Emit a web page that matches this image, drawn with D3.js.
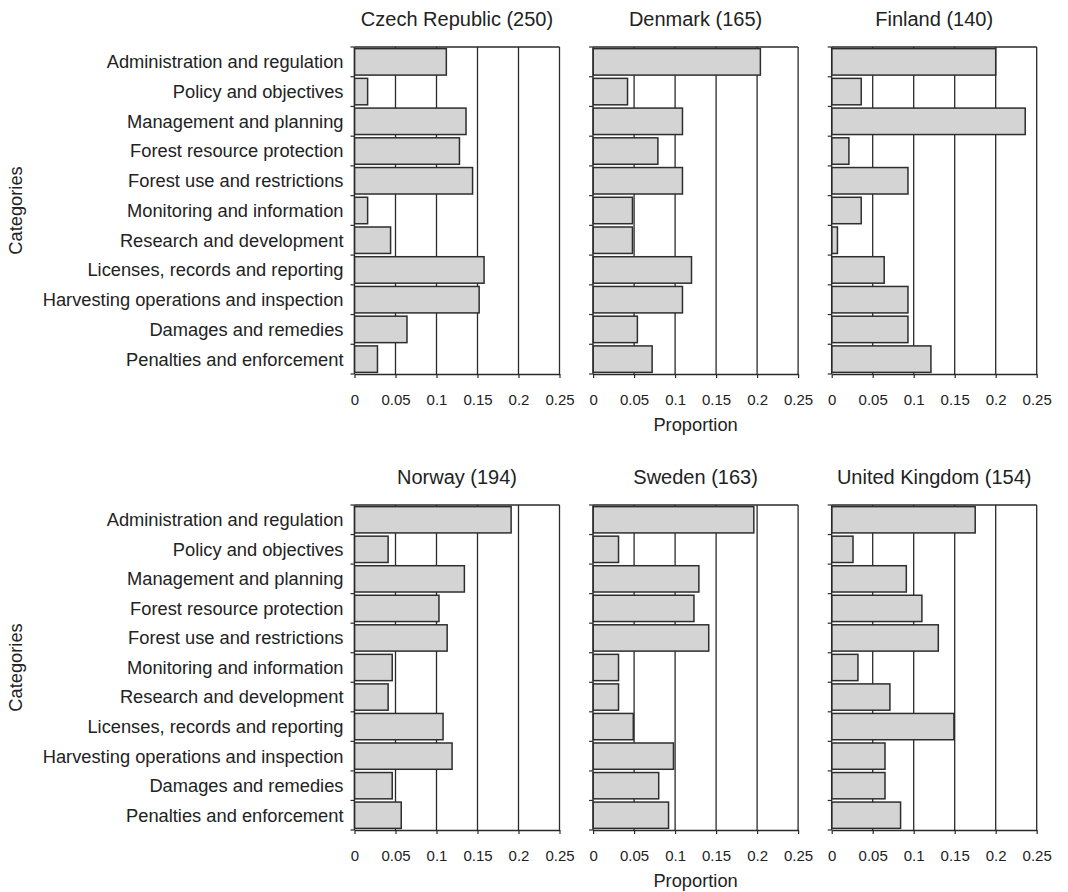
<!DOCTYPE html>
<html>
<head>
<meta charset="utf-8">
<script src="https://cdn.jsdelivr.net/npm/d3@7"></script>
<style>
  html, body { margin: 0; padding: 0; background: #fff; }
  svg { display: block; font-family: "Liberation Sans", Arial, Helvetica, sans-serif; }
</style>
</head>
<body>
<svg id="chart" width="1068" height="892"></svg>
<script>
const categories = [
  "Administration and regulation",
  "Policy and objectives",
  "Management and planning",
  "Forest resource protection",
  "Forest use and restrictions",
  "Monitoring and information",
  "Research and development",
  "Licenses, records and reporting",
  "Harvesting operations and inspection",
  "Damages and remedies",
  "Penalties and enforcement"
];
const countries = ["Czech Republic", "Denmark", "Finland", "Norway", "Sweden", "United Kingdom"];
const sampleSizes = [250, 165, 140, 194, 163, 154];

const czechRepublic = [0.112, 0.016, 0.136, 0.128, 0.144, 0.016, 0.044, 0.158, 0.152, 0.064, 0.028];
const denmark       = [0.204, 0.042, 0.109, 0.079, 0.109, 0.048, 0.048, 0.120, 0.109, 0.054, 0.072];
const finland       = [0.200, 0.036, 0.236, 0.021, 0.093, 0.036, 0.007, 0.064, 0.093, 0.093, 0.121];
const norway        = [0.191, 0.041, 0.134, 0.103, 0.113, 0.046, 0.041, 0.108, 0.119, 0.046, 0.057];
const sweden        = [0.196, 0.031, 0.129, 0.123, 0.141, 0.031, 0.031, 0.049, 0.098, 0.080, 0.092];
const unitedKingdom = [0.175, 0.026, 0.091, 0.110, 0.130, 0.032, 0.071, 0.149, 0.065, 0.065, 0.084];

const seriesValues = [czechRepublic, denmark, finland, norway, sweden, unitedKingdom];
const xTicks = [0, 0.05, 0.1, 0.15, 0.2, 0.25];
const xTickLabels = ["0", "0.05", "0.1", "0.15", "0.2", "0.25"];
const xTitle = "Proportion";
const yTitle = "Categories";

const svg = d3.select("#chart");
const panelW = 205;
const colX = [354.5, 593.1, 831.7];
const rowY = [{ top: 47, bottom: 374 }, { top: 505, bottom: 830 }];
const ink = "#222";
const lineCol = "#2a2a2a";

const x = d3.scaleLinear().domain([0, 0.25]);

countries.forEach((country, idx) => {
  const col = idx % 3, row = Math.floor(idx / 3);
  const x0 = colX[col];
  const { top, bottom } = rowY[row];
  const xs = x.copy().range([x0, x0 + panelW]);
  const y = d3.scaleBand().domain(categories).range([top, bottom])
    .paddingInner(0.11).paddingOuter(0.055);
  const g = svg.append("g");

  // gridlines (including right frame at 0.25)
  g.selectAll("line.grid").data(xTicks.slice(1)).join("line")
    .attr("x1", d => xs(d)).attr("x2", d => xs(d))
    .attr("y1", top).attr("y2", bottom)
    .attr("stroke", lineCol).attr("stroke-width", 1.3);
  // top frame
  g.append("line").attr("x1", x0).attr("x2", x0 + panelW).attr("y1", top).attr("y2", top)
    .attr("stroke", lineCol).attr("stroke-width", 1.3);

  // bars
  g.selectAll("rect.bar").data(seriesValues[idx]).join("rect")
    .attr("x", xs(0))
    .attr("y", (d, i) => y(categories[i]))
    .attr("width", d => xs(d) - xs(0))
    .attr("height", y.bandwidth())
    .attr("fill", "#d4d4d4")
    .attr("stroke", "#2e2e2e")
    .attr("stroke-width", 1.5);

  // left axis line and band-boundary ticks
  const step = y.step();
  const bounds = d3.range(categories.length + 1).map(i => top + i * (bottom - top) / categories.length);
  g.append("line").attr("x1", x0).attr("x2", x0).attr("y1", top).attr("y2", bottom)
    .attr("stroke", lineCol).attr("stroke-width", 1.3);
  g.selectAll("line.ytick").data(bounds).join("line")
    .attr("x1", x0 - 4).attr("x2", x0).attr("y1", d => d).attr("y2", d => d)
    .attr("stroke", lineCol).attr("stroke-width", 1.2);

  // bottom axis
  const xAxis = d3.axisBottom(xs).tickValues(xTicks)
    .tickFormat((d, i) => xTickLabels[i]).tickSize(4).tickPadding(16).tickSizeOuter(0);
  const ax = g.append("g").attr("transform", `translate(0,${bottom})`).call(xAxis);
  ax.select(".domain").attr("stroke", lineCol).attr("stroke-width", 1.3);
  ax.selectAll(".tick line").attr("stroke", lineCol).attr("stroke-width", 1.2);
  ax.selectAll(".tick text").attr("fill", ink).attr("font-size", 15)
    .attr("font-family", "'Liberation Sans', Arial, sans-serif");

  // category labels on the left column
  if (col === 0) {
    g.selectAll("text.cat").data(categories).join("text")
      .attr("x", x0 - 11)
      .attr("y", d => y(d) + y.bandwidth() / 2)
      .attr("dy", "0.35em")
      .attr("text-anchor", "end")
      .attr("font-size", 18.3)
      .attr("fill", ink)
      .text(d => d);
    svg.append("text")
      .attr("transform", `translate(22,${(top + bottom) / 2}) rotate(-90)`)
      .attr("text-anchor", "middle")
      .attr("font-size", 18.3)
      .attr("fill", ink)
      .text(yTitle);
  }
  if (col === 1) {
    svg.append("text")
      .attr("x", x0 + panelW / 2)
      .attr("y", bottom + 57)
      .attr("text-anchor", "middle")
      .attr("font-size", 18.3)
      .attr("fill", ink)
      .text(xTitle);
  }

  // panel title
  svg.append("text")
    .attr("x", x0 + panelW / 2)
    .attr("y", top - 21)
    .attr("text-anchor", "middle")
    .attr("font-size", 20)
    .attr("fill", ink)
    .text(`${country} (${sampleSizes[idx]})`);
});
</script>
</body>
</html>
